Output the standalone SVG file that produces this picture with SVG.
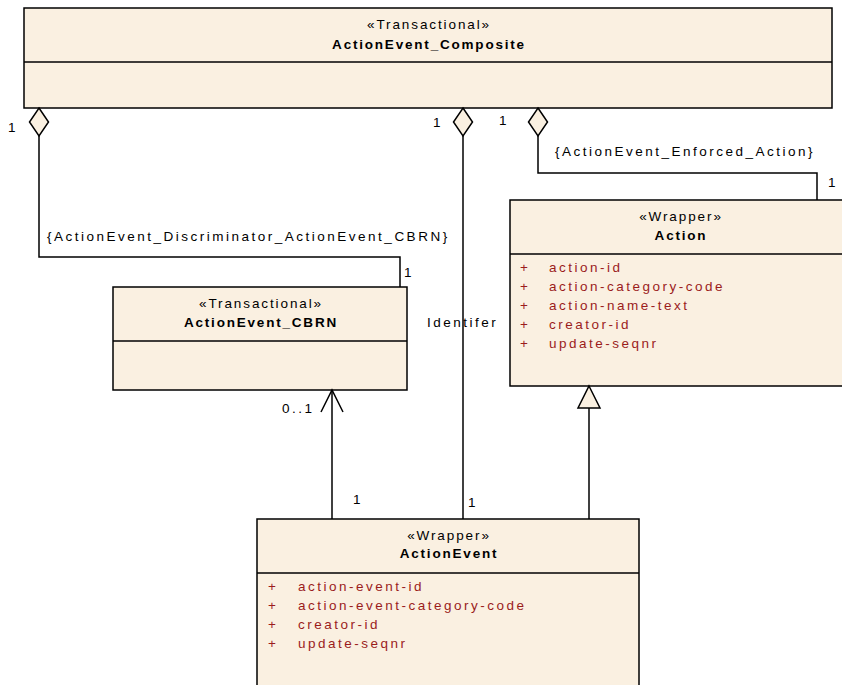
<svg xmlns="http://www.w3.org/2000/svg" width="842" height="685" viewBox="0 0 842 685">
<style>
text{font-family:"Liberation Sans",Arial,sans-serif;font-size:13.5px;fill:#000;letter-spacing:2.5px}
.b{font-weight:bold;letter-spacing:1.8px}
.s{letter-spacing:1.9px}
.c{text-anchor:middle}
.a{fill:#9b1c1c}
.box{fill:#faf0e1;stroke:#000;stroke-width:1.5}
.ln{fill:none;stroke:#000;stroke-width:1.5}
</style>
<rect width="842" height="685" fill="#fff"/>
<g id="ActionEvent_Composite">
<rect class="box" x="24" y="8" width="808" height="100"/>
<line class="ln" x1="24" y1="62" x2="832" y2="62"/>
<text class="c s" x="429" y="29">«Transactional»</text>
<text class="c b" x="429" y="49">ActionEvent_Composite</text>
</g>
<g id="ActionEvent_CBRN">
<rect class="box" x="113" y="287" width="294" height="103"/>
<line class="ln" x1="113" y1="341" x2="407" y2="341"/>
<text class="c s" x="261" y="308">«Transactional»</text>
<text class="c b" x="261" y="327">ActionEvent_CBRN</text>
</g>
<g id="Action">
<rect class="box" x="510" y="200" width="345" height="186"/>
<line class="ln" x1="510" y1="254" x2="855" y2="254"/>
<text class="c s" x="681" y="221">«Wrapper»</text>
<text class="c b" x="681" y="240">Action</text>
<text class="a" x="520" y="272">+</text><text class="a" x="549" y="272">action-id</text>
<text class="a" x="520" y="291">+</text><text class="a" x="549" y="291">action-category-code</text>
<text class="a" x="520" y="310">+</text><text class="a" x="549" y="310">action-name-text</text>
<text class="a" x="520" y="329">+</text><text class="a" x="549" y="329">creator-id</text>
<text class="a" x="520" y="348">+</text><text class="a" x="549" y="348">update-seqnr</text>
</g>
<g id="ActionEvent">
<rect class="box" x="257" y="519" width="382" height="180"/>
<line class="ln" x1="257" y1="573" x2="639" y2="573"/>
<text class="c s" x="449" y="540">«Wrapper»</text>
<text class="c b" x="449" y="558">ActionEvent</text>
<text class="a" x="268" y="591">+</text><text class="a" x="298" y="591">action-event-id</text>
<text class="a" x="268" y="610">+</text><text class="a" x="298" y="610">action-event-category-code</text>
<text class="a" x="268" y="629">+</text><text class="a" x="298" y="629">creator-id</text>
<text class="a" x="268" y="648">+</text><text class="a" x="298" y="648">update-seqnr</text>
</g>
<g id="connectors">
<polyline class="ln" points="39,136 39,257 400,257 400,287"/>
<polygon class="box" points="39,108 48.5,122 39,136 29.5,122"/>
<line class="ln" x1="463" y1="136" x2="463" y2="519"/>
<polygon class="box" points="463,108 472.5,122 463,136 453.5,122"/>
<polyline class="ln" points="538,136 538,173 817,173 817,200"/>
<polygon class="box" points="538,108 547.5,122 538,136 528.5,122"/>
<line class="ln" x1="332" y1="519" x2="332" y2="390"/>
<polyline class="ln" points="321,412 332,390 343,412"/>
<line class="ln" x1="589" y1="519" x2="589" y2="408"/>
<polygon class="box" points="589,386 600,408 578,408"/>
<text x="8" y="132">1</text>
<text x="433" y="127">1</text>
<text x="499" y="125">1</text>
<text x="555" y="156">{ActionEvent_Enforced_Action}</text>
<text x="828" y="187">1</text>
<text x="47" y="241">{ActionEvent_Discriminator_ActionEvent_CBRN}</text>
<text x="404" y="277">1</text>
<text x="427" y="327">Identifer</text>
<text x="282" y="413">0..1</text>
<text x="353" y="504">1</text>
<text x="468" y="507">1</text>
</g>
</svg>
